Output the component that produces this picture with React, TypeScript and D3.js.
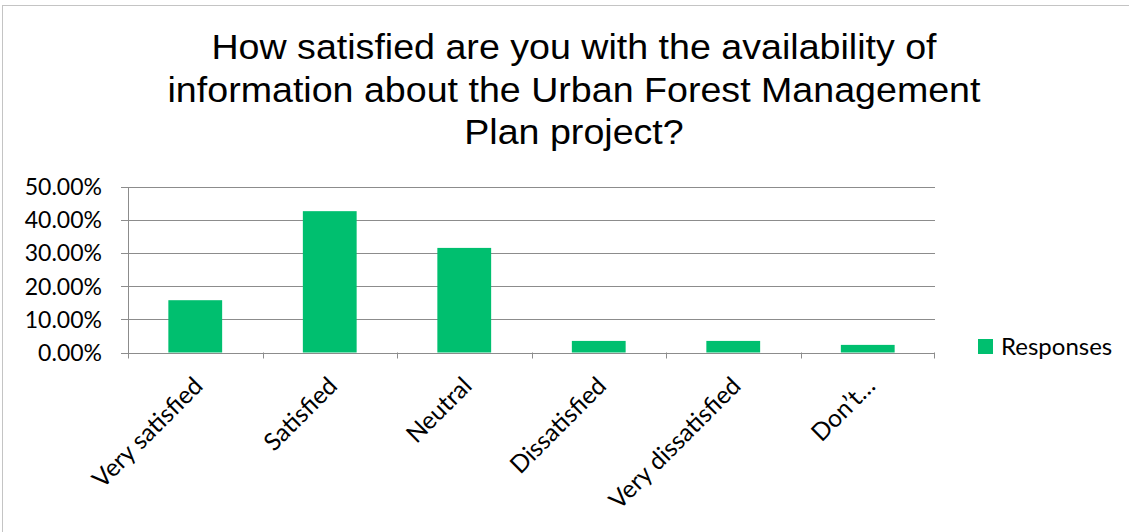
import { useEffect, useRef } from "react";
import * as d3 from "d3";

const categories = [
  "Very satisfied",
  "Satisfied",
  "Neutral",
  "Dissatisfied",
  "Very dissatisfied",
  "Don\u2019t\u2026",
];
const responses = [0.158, 0.427, 0.316, 0.035, 0.035, 0.023];
const yTicks = [0, 0.1, 0.2, 0.3, 0.4, 0.5];
const titleLines = [
  "How satisfied are you with the availability of",
  "information about the Urban Forest Management",
  "Plan project?",
];
const seriesName = "Responses";

export default function App() {
  const svgRef = useRef<SVGSVGElement>(null);
  const width = 1129;
  const height = 532;

  useEffect(() => {
    if (!svgRef.current) return;
    const svg = d3.select(svgRef.current);
    svg.selectAll("*").remove();

    const left = 128;
    const right = 935;
    const top = 187;
    const bottom = 352.5;
    const gridColor = "#8c8c8c";
    const labelFont = "Lato, 'Open Sans', sans-serif";

    // chart frame
    svg
      .append("rect")
      .attr("x", 2.5)
      .attr("y", 5.5)
      .attr("width", width + 20)
      .attr("height", height + 20)
      .attr("fill", "white")
      .attr("stroke", "#c4c4c4");

    // title (slightly widened to match the original renderer)
    svg
      .append("g")
      .attr("transform", "translate(574,0) scale(1.09,1)")
      .selectAll("text")
      .data(titleLines)
      .join("text")
      .attr("x", 0)
      .attr("y", (_, i) => 59.5 + i * 42.3)
      .attr("text-anchor", "middle")
      .attr("font-family", "'Liberation Sans', Arial, sans-serif")
      .attr("font-size", 34.5)
      .attr("fill", "#000")
      .text((d) => d);

    const x = d3.scaleBand<string>().domain(categories).range([left, right]).padding(0);
    const y = d3.scaleLinear().domain([0, 0.5]).range([bottom, top]);
    const barWidth = x.bandwidth() / 2.5;

    // gridlines + y ticks
    yTicks.forEach((t) => {
      svg
        .append("line")
        .attr("x1", left - 7)
        .attr("x2", right)
        .attr("y1", Math.round(y(t)) + 0.5)
        .attr("y2", Math.round(y(t)) + 0.5)
        .attr("stroke", gridColor)
        .attr("stroke-width", 1);
      svg
        .append("text")
        .attr("x", 102)
        .attr("y", y(t))
        .attr("dy", "0.36em")
        .attr("text-anchor", "end")
        .attr("font-family", labelFont)
        .attr("font-size", 23)
        .attr("fill", "#000")
        .text(d3.format(".2%")(t));
    });

    // y axis line
    svg
      .append("line")
      .attr("x1", left + 0.5)
      .attr("x2", left + 0.5)
      .attr("y1", top)
      .attr("y2", bottom + 6)
      .attr("stroke", gridColor);

    // x axis ticks at category boundaries
    categories.slice(1).forEach((c) => {
      const bx = x(c) as number;
      svg
        .append("line")
        .attr("x1", Math.round(bx) + 0.5)
        .attr("x2", Math.round(bx) + 0.5)
        .attr("y1", bottom)
        .attr("y2", bottom + 6)
        .attr("stroke", gridColor);
    });
    svg
      .append("line")
      .attr("x1", right - 0.5)
      .attr("x2", right - 0.5)
      .attr("y1", bottom)
      .attr("y2", bottom + 6)
      .attr("stroke", gridColor);

    // bars
    svg
      .append("g")
      .selectAll("rect")
      .data(responses)
      .join("rect")
      .attr("x", (_, i) => (x(categories[i]) as number) + (x.bandwidth() - barWidth) / 2)
      .attr("y", (d) => y(d))
      .attr("width", barWidth)
      .attr("height", (d) => bottom - y(d))
      .attr("fill", "#00BF6F");

    // category labels, rotated
    categories.forEach((c) => {
      const cx = (x(c) as number) + x.bandwidth() / 2 + 9;
      const cy = bottom + 35;
      svg
        .append("text")
        .attr("transform", `translate(${cx},${cy}) rotate(-45)`)
        .attr("text-anchor", "end")
        .attr("font-family", labelFont)
        .attr("font-size", 24.5)
        .attr("fill", "#000")
        .text(c);
    });

    // legend
    svg
      .append("rect")
      .attr("x", 978)
      .attr("y", 339)
      .attr("width", 15)
      .attr("height", 15)
      .attr("fill", "#00BF6F");
    svg
      .append("text")
      .attr("x", 1001)
      .attr("y", 346.5)
      .attr("dy", "0.36em")
      .attr("font-family", labelFont)
      .attr("font-size", 24)
      .attr("fill", "#000")
      .text(seriesName);
  }, []);

  return (
    <svg
      ref={svgRef}
      width={width}
      height={height}
      viewBox={`0 0 ${width} ${height}`}
      style={{ position: "absolute", left: 0, top: 0, background: "white" }}
    ></svg>
  );
}
